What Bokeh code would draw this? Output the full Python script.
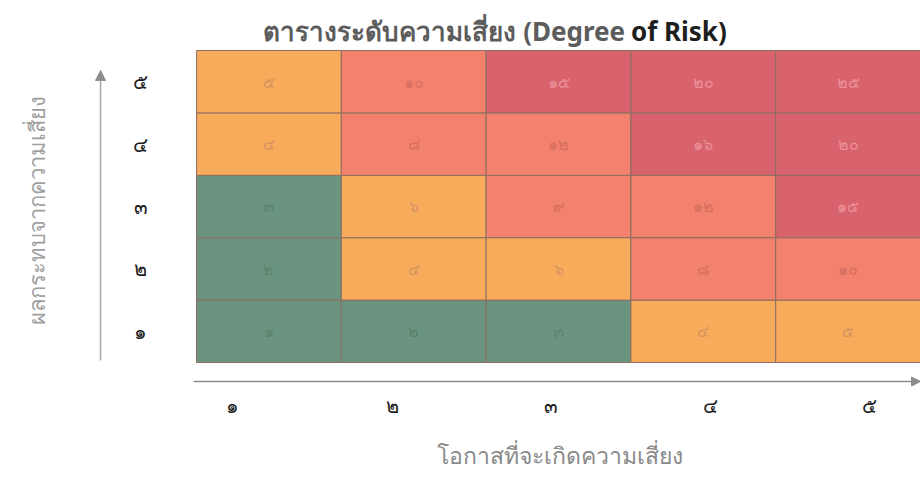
from bokeh.plotting import figure
from bokeh.models import ColumnDataSource, Arrow, NormalHead
from bokeh.core.properties import value
from bokeh.embed import file_html
from bokeh.resources import INLINE
import math

# ---- data ----
title_main = "ตารางระดับความเสี่ยง (Degree"
title_tail = "of Risk)"
x_title = "โอกาสที่จะเกิดความเสี่ยง"
y_title = "ผลกระทบจากความเสี่ยง"
likelihood_labels = ["๑", "๒", "๓", "๔", "๕"]
impact_labels = ["๑", "๒", "๓", "๔", "๕"]
# risk scores, rows = impact 1..5, columns = likelihood 1..5
scores = [
    [1, 2, 3, 4, 5],
    [2, 4, 6, 8, 10],
    [3, 6, 9, 12, 15],
    [4, 8, 12, 16, 20],
    [5, 10, 15, 20, 25],
]
level_colors = {"low": "#6a9480", "medium": "#f9ab5c", "high": "#f2826d", "extreme": "#d9636c"}
level_text = {"low": "#5a836e", "medium": "#d39360", "high": "#d66e5f", "extreme": "#ec9098"}

THAI = str.maketrans("0123456789", "๐๑๒๓๔๕๖๗๘๙")

def level(v):
    if v <= 3:
        return "low"
    if v <= 6:
        return "medium"
    if v <= 12:
        return "high"
    return "extreme"

xs, ys, fills, tcols, labels = [], [], [], [], []
for r, row in enumerate(scores):
    for c, v in enumerate(row):
        xs.append(c + 0.5)
        ys.append(r + 0.5)
        lv = level(v)
        fills.append(level_colors[lv])
        tcols.append(level_text[lv])
        labels.append(str(v).translate(THAI))

src = ColumnDataSource(dict(x=xs, y=ys, fill=fills, tcol=tcols, label=labels))

W, H = 920, 472
p = figure(width=W, height=H, x_range=(-1.354, 5.0), y_range=(-1.763, 5.801),
           output_backend="svg", toolbar_location=None,
           min_border=0, min_border_left=0, min_border_right=0,
           min_border_top=0, min_border_bottom=0)
p.axis.visible = False
p.grid.visible = False
p.outline_line_color = None
p.background_fill_color = "white"
p.border_fill_color = "white"

FONT = value("Noto Sans")

p.rect(x="x", y="y", width=1, height=1, source=src, fill_color="fill",
       line_color="#8a6e62", line_width=1)
p.text(x="x", y="y", text="label", source=src, text_color="tcol",
       text_font=FONT, text_font_size="16px", text_align="center",
       text_baseline="middle")

# axis arrows
p.add_layout(Arrow(end=NormalHead(size=9, fill_color="#8c8c8c", line_color="#8c8c8c"),
                   x_start=-0.021, y_start=-0.305, x_end=5.0, y_end=-0.305,
                   line_color="#8c8c8c", line_width=1.5))
p.add_layout(Arrow(end=NormalHead(size=10, fill_color="#8c8c8c", line_color="#8c8c8c"),
                   x_start=-0.663, y_start=0.03, x_end=-0.663, y_end=4.68,
                   line_color="#a8a8a8", line_width=1.5))

# tick labels
xt = ColumnDataSource(dict(x=[0.25 + 1.1 * i for i in range(len(likelihood_labels))],
                           y=[-0.689] * len(likelihood_labels), t=likelihood_labels))
p.text(x="x", y="y", text="t", source=xt, text_font=FONT, text_font_size="20px",
       text_color="#1e1e1e", text_align="center", text_baseline="middle")
yt = ColumnDataSource(dict(x=[-0.387] * len(impact_labels),
                           y=[i + 0.5 for i in range(len(impact_labels))], t=impact_labels))
p.text(x="x", y="y", text="t", source=yt, text_font=FONT, text_font_size="20px",
       text_color="#1e1e1e", text_align="center", text_baseline="middle")

# axis titles
p.text(x=[2.513], y=[-1.49], text=[x_title], text_font=FONT, text_font_size="23px",
       text_color="#8a8a8a", text_align="center", text_baseline="middle")
p.text(x=[-1.112], y=[2.436], text=[y_title], angle=math.pi / 2, text_font=FONT,
       text_font_size="22px", text_color="#a0a0a0", text_align="center",
       text_baseline="middle")

# title
p.text(x=[2.96], y=[5.32], text=[title_main], text_font=FONT, text_font_size="26px",
       text_font_style="bold", text_color="#5c5c5c", text_align="right",
       text_baseline="middle")
p.text(x=[3.0], y=[5.32], text=[title_tail], text_font=FONT, text_font_size="26px",
       text_font_style="bold", text_color="#1e1e1e", text_align="left",
       text_baseline="middle")

open("out.html", "w").write(file_html(p, INLINE))
